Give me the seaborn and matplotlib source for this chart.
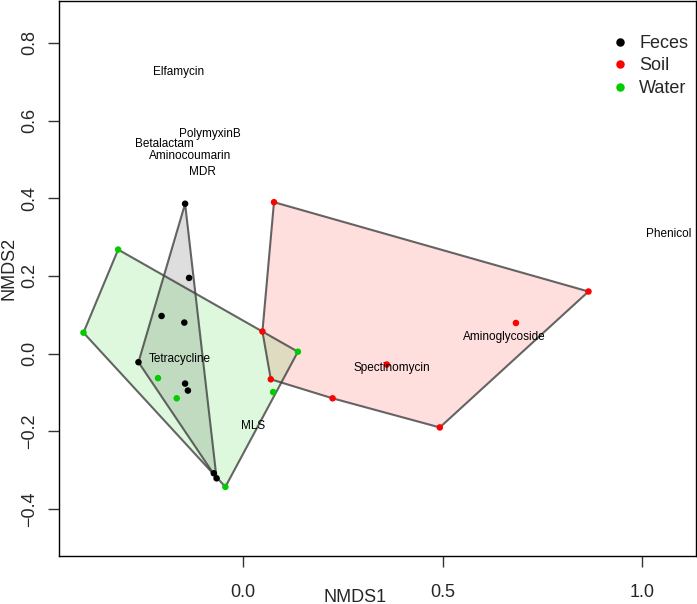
import numpy as np
import pandas as pd
import matplotlib
matplotlib.use("Agg")
import matplotlib.pyplot as plt
import seaborn as sns

# ---- data ----
feces_x = [-0.146, -0.136, -0.205, -0.148, -0.263, -0.146, -0.139, -0.074, -0.067]
feces_y = [0.386, 0.195, 0.097, 0.080, -0.022, -0.077, -0.095, -0.308, -0.321]
soil_x = [0.077, 0.866, 0.684, 0.048, 0.360, 0.069, 0.224, 0.493]
soil_y = [0.390, 0.160, 0.079, 0.057, -0.028, -0.066, -0.115, -0.190]
water_x = [-0.314, -0.401, 0.137, -0.214, 0.075, -0.167, -0.045]
water_y = [0.268, 0.054, 0.005, -0.063, -0.099, -0.115, -0.343]

groups = ["Feces", "Soil", "Water"]
colors = ["#000000", "#FF0000", "#00CC00"]

label_names = ["Elfamycin", "PolymyxinB", "Betalactam", "Aminocoumarin", "MDR",
               "Tetracycline", "MLS", "Spectinomycin", "Aminoglycoside", "Phenicol"]
label_x = [-0.162, -0.084, -0.198, -0.133, -0.102, -0.159, 0.025, 0.372, 0.655, 1.066]
label_y = [0.726, 0.566, 0.539, 0.510, 0.469, -0.015, -0.186, -0.036, 0.043, 0.308]

x_ticks = [0.0, 0.5, 1.0]
y_ticks = [-0.4, -0.2, 0.0, 0.2, 0.4, 0.6, 0.8]

df = pd.DataFrame({
    "NMDS1": feces_x + soil_x + water_x,
    "NMDS2": feces_y + soil_y + water_y,
    "group": ["Feces"] * len(feces_x) + ["Soil"] * len(soil_x) + ["Water"] * len(water_x),
})


def convex_hull(xs, ys):
    pts = sorted(set(zip(xs, ys)))
    def cross(o, a, b):
        return (a[0] - o[0]) * (b[1] - o[1]) - (a[1] - o[1]) * (b[0] - o[0])
    lower, upper = [], []
    for p in pts:
        while len(lower) >= 2 and cross(lower[-2], lower[-1], p) <= 0:
            lower.pop()
        lower.append(p)
    for p in reversed(pts):
        while len(upper) >= 2 and cross(upper[-2], upper[-1], p) <= 0:
            upper.pop()
        upper.append(p)
    hull = lower[:-1] + upper[:-1]
    return [p[0] for p in hull], [p[1] for p in hull]


sns.set_style("white")
plt.rcParams["font.family"] = ["Liberation Sans", "DejaVu Sans"]

fig = plt.figure(figsize=(6.97, 6.04), dpi=100)
ax = fig.add_axes([59.3 / 697, 48 / 604, (695.5 - 59.3) / 697, 555 / 604])

# hulls
for g, c in zip(groups, colors):
    sub = df[df.group == g]
    hx, hy = convex_hull(list(sub.NMDS1), list(sub.NMDS2))
    ax.fill(hx, hy, facecolor=c, alpha=0.13, edgecolor="none", zorder=1)
    ax.fill(hx, hy, facecolor="none", edgecolor=(0.25, 0.25, 0.25, 0.8), linewidth=1.5, zorder=2)

sns.scatterplot(data=df, x="NMDS1", y="NMDS2", hue="group", hue_order=groups,
                palette=colors, s=22, linewidth=0, ax=ax, zorder=3, legend=True)

for name, lx, ly in zip(label_names, label_x, label_y):
    ax.text(lx, ly, name, ha="center", va="center", fontsize=8.5, color="black", zorder=4)

ax.set_xlim(-0.4616, 1.1345)
ax.set_ylim(-0.521, 0.908)
ax.set_xticks(x_ticks)
ax.set_xticklabels(["0.0", "0.5", "1.0"])
ax.set_yticks(y_ticks)
ax.set_yticklabels(["\u22120.4", "\u22120.2", "0.0", "0.2", "0.4", "0.6", "0.8"])
ax.tick_params(axis="both", which="both", direction="out", length=8, width=1,
               color="#333333", labelsize=13, bottom=True, left=True)
ax.tick_params(axis="x", pad=12)
ax.tick_params(axis="y", pad=7)
for lab in ax.get_yticklabels():
    lab.set_rotation(90)
    lab.set_va("center")

for sp in ax.spines.values():
    sp.set_visible(True)
    sp.set_color("black")
    sp.set_linewidth(1.0)

ax.set_xlabel("NMDS1", fontsize=13)
ax.set_ylabel("NMDS2", fontsize=13)
ax.xaxis.label.set_va("center")
ax.yaxis.label.set_va("center")
ax.xaxis.set_label_coords((355 - 59.3) / 636.2, (556 - 597) / 555)
ax.yaxis.set_label_coords((9 - 59.3) / 636.2, (556 - 268) / 555)

handles, labels = ax.get_legend_handles_labels()
leg = ax.legend(handles, labels, loc="upper left", frameon=False, fontsize=13,
                bbox_to_anchor=((615 - 59.3) / 636.2, (556 - 35) / 555),
                handlelength=0.6, handletextpad=0.75, labelspacing=0.3,
                borderaxespad=0, borderpad=0, markerscale=1.3)

fig.savefig("out.png", dpi=100)
